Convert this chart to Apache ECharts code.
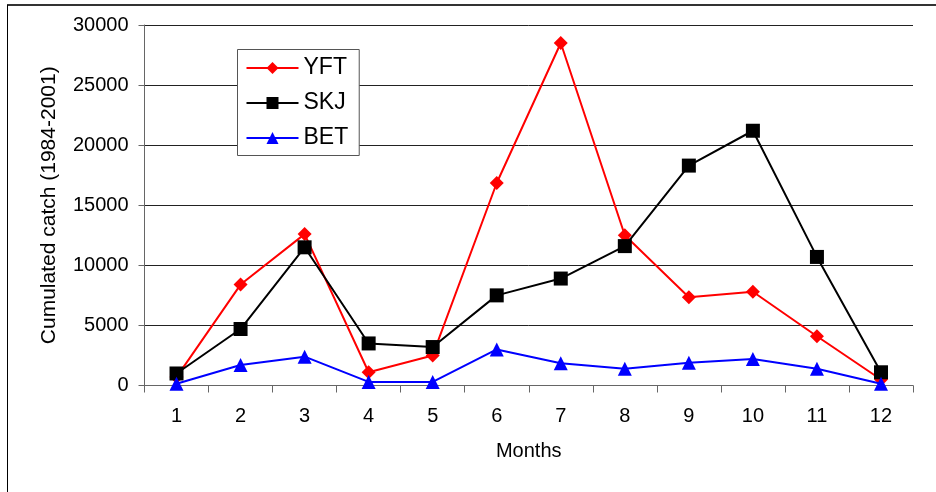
<!DOCTYPE html>
<html>
<head>
<meta charset="utf-8">
<script src="https://cdn.jsdelivr.net/npm/echarts@6/dist/echarts.min.js"></script>
<style>html,body{margin:0;padding:0;background:#fff;}#c{width:936px;height:492px;}</style>
</head>
<body>
<div id="c"></div>
<script>
const months = ['1','2','3','4','5','6','7','8','9','10','11','12'];
const yft = [700, 8400, 12600, 1100, 2500, 16850, 28500, 12500, 7350, 7800, 4100, 500];
const skj = [1000, 4700, 11500, 3500, 3200, 7500, 8900, 11600, 18300, 21200, 10700, 1100];
const bet = [150, 1700, 2400, 300, 300, 3000, 1850, 1400, 1900, 2200, 1400, 150];
const yTicks = [0, 5000, 10000, 15000, 20000, 25000, 30000];

const chart = echarts.init(document.getElementById('c'), null, {renderer: 'canvas'});
const font = 'Liberation Sans, Arial, sans-serif';
chart.setOption({
  animation: false,
  backgroundColor: '#fff',
  textStyle: {fontFamily: font},
  grid: {left: 144.5, right: 23, top: 25, bottom: 106.5, containLabel: false},
  legend: {
    orient: 'vertical', left: 237.5, top: 49.5,
    padding: [7, 11, 6, 8],
    itemGap: 12, itemWidth: 52, itemHeight: 15,
    backgroundColor: '#fff', borderColor: '#555', borderWidth: 1,
    textStyle: {fontSize: 23, color: '#000', fontFamily: font},
    data: ['YFT', 'SKJ', 'BET']
  },
  xAxis: {
    type: 'category', data: months, boundaryGap: true,
    name: 'Months', nameLocation: 'middle', nameGap: 56,
    nameTextStyle: {fontSize: 20, color: '#000', fontFamily: font},
    axisLine: {lineStyle: {color: '#666', width: 1}},
    axisTick: {show: true, alignWithLabel: false, length: 7, lineStyle: {color: '#666'}},
    axisLabel: {fontSize: 20, color: '#000', margin: 21, fontFamily: font}
  },
  yAxis: {
    type: 'value', min: 0, max: 30000, interval: 5000,
    name: 'Cumulated catch (1984-2001)', nameLocation: 'middle', nameGap: 85,
    nameTextStyle: {fontSize: 21, color: '#000', fontFamily: font},
    axisLine: {show: true, lineStyle: {color: '#666', width: 1}},
    axisTick: {show: true, length: 6, lineStyle: {color: '#666'}},
    axisLabel: {fontSize: 20, color: '#000', margin: 16, fontFamily: font,
      formatter: v => yTicks.includes(v) ? String(v) : ''},
    splitLine: {show: true, lineStyle: {color: '#222', width: 1}}
  },
  series: [
    {name: 'YFT', type: 'line', data: yft, symbol: 'diamond', symbolSize: 14,
      lineStyle: {color: '#ff0000', width: 2}, itemStyle: {color: '#ff0000'}, z: 3},
    {name: 'SKJ', type: 'line', data: skj, symbol: 'rect', symbolSize: 14,
      lineStyle: {color: '#000000', width: 2}, itemStyle: {color: '#000000'}, z: 4},
    {name: 'BET', type: 'line', data: bet, symbol: 'triangle', symbolSize: 14,
      lineStyle: {color: '#0000ff', width: 2}, itemStyle: {color: '#0000ff'}, z: 5}
  ],
  graphic: [
    {type: 'line', shape: {x1: 7, y1: 5, x2: 936, y2: 5}, style: {stroke: '#333', lineWidth: 2}},
    {type: 'line', shape: {x1: 7.5, y1: 5, x2: 7.5, y2: 492}, style: {stroke: '#000', lineWidth: 1}}
  ]
});
</script>
</body>
</html>
